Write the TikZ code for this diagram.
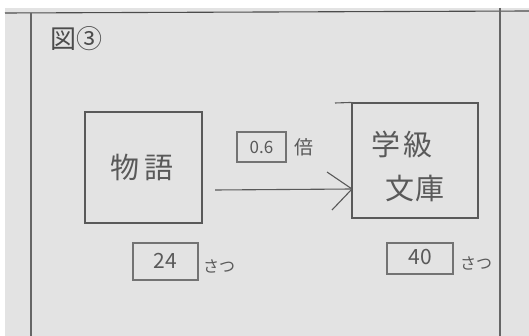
\documentclass[tikz,border=0pt]{standalone}
\usepackage{fontspec}
\newfontfamily\jp{Noto Sans CJK JP}[Scale=1]
\begin{document}
\begin{tikzpicture}[x=1pt,y=-1pt,
  pencil/.style={draw=black!65, line width=1.1pt},
  numbox/.style={pencil, draw=black!55, inner sep=0pt, minimum height=#1},
  lbl/.style={text=black!65, inner sep=0pt, font=\jp}]
\useasboundingbox (0,0) rectangle (529,336);
\fill[white] (0,0) rectangle (529,336);
\fill[black!11] (5,8) rectangle (529,336);
% frame
\coordinate (tl) at (5,13); \coordinate (tr) at (529,11);
\draw[pencil, draw=black!70] (tl) -- (tr);
\coordinate (l1) at (31,13); \coordinate (l2) at (31,336);
\draw[pencil, draw=black!60] (l1) -- (l2);
\coordinate (r1) at (500,8); \coordinate (r2) at (500,336);
\draw[pencil, draw=black!60] (r1) -- (r2);
% title
\node[lbl, text=black!70, font=\jp\fontsize{26}{26}\selectfont] (title) at (76,39) {図③};
% left box
\node[pencil, minimum width=117pt, minimum height=111pt, inner sep=0pt] (story) at (143.5,167.5) {};
\node[lbl, font=\jp\fontsize{29}{29}\selectfont] (storyt) at (142,167) {物\hspace{6pt}語};
% right box
\node[pencil, minimum width=126pt, minimum height=115pt, inner sep=0pt] (lib) at (415,160.5) {};
\coordinate (libext) at (335,103);
\draw[pencil] (libext) -- (lib.north west);
\node[lbl, font=\jp\fontsize{29}{29}\selectfont] (libt1) at (402,144) {学\hspace{4pt}級};
\node[lbl, font=\jp\fontsize{29}{29}\selectfont] (libt2) at (415,188) {文\hspace{2pt}庫};
% arrow
\coordinate (astart) at (215,190);
\coordinate (atip) at (352,189);
\coordinate (aw1) at (327,172);
\coordinate (aw2) at (332,210);
\draw[pencil] (astart) -- (atip);
\draw[pencil] (aw1) -- (atip) -- (aw2);
% ratio
\node[numbox=30pt, minimum width=49pt] (ratio) at (261.5,147) {};
\node[lbl, font=\jp\fontsize{17}{17}\selectfont] (ratiot) at (261.5,147) {0.6};
\node[lbl, font=\jp\fontsize{19}{19}\selectfont] (bai) at (304,147) {倍};
% counts
\node[numbox=37pt, minimum width=65pt] (c24) at (165.5,261.5) {};
\node[lbl, font=\jp\fontsize{21}{21}\selectfont] (c24t) at (165,261) {24};
\node[lbl, font=\jp\fontsize{16}{16}\selectfont] (s1) at (219,266) {さつ};
\node[numbox=31pt, minimum width=66pt] (c40) at (420,258.5) {};
\node[lbl, font=\jp\fontsize{21}{21}\selectfont] (c40t) at (420,257) {40};
\node[lbl, font=\jp\fontsize{16}{16}\selectfont] (s2) at (476,263) {さつ};
\end{tikzpicture}
\end{document}
